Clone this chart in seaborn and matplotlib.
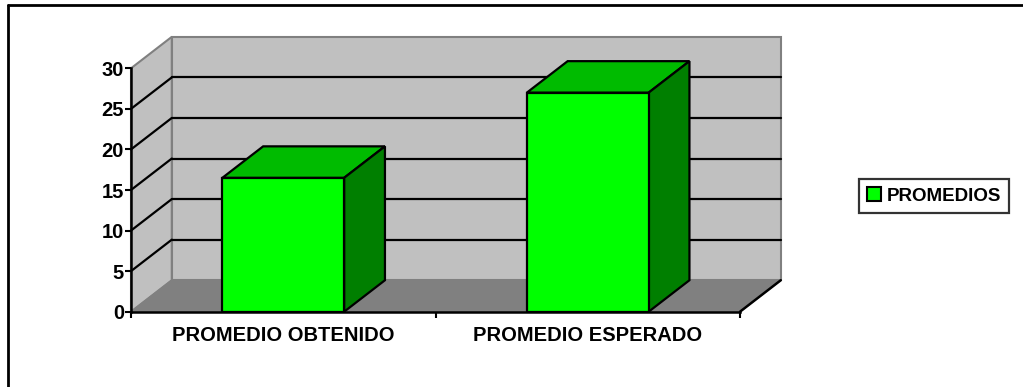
import matplotlib
matplotlib.use("Agg")
import matplotlib.pyplot as plt
from matplotlib.patches import Polygon, Rectangle, Patch
from matplotlib.lines import Line2D
import seaborn as sns

categories = ["PROMEDIO OBTENIDO", "PROMEDIO ESPERADO"]
values = [16.5, 27]
series_name = "PROMEDIOS"
y_ticks = [0, 5, 10, 15, 20, 25, 30]

FRONT = "#00FF00"
TOP = "#00BB00"
SIDE = "#007F00"
WALL = "#C0C0C0"
FLOOR = "#808080"

sns.set_style("white")
plt.rcParams["font.family"] = ["Liberation Sans", "DejaVu Sans"]
plt.rcParams["font.weight"] = "bold"
plt.rcParams["text.color"] = "black"

fig = plt.figure(figsize=(10.23, 3.87), dpi=100)
ax = fig.add_axes([131 / 1023, 75.3 / 387, 609 / 1023, 243.4 / 387])

ymax = 30
dx, dy = 0.134, 3.88
x0, x1 = -0.5, 1.5

# walls and floor
ax.add_patch(Polygon([(x0, 0), (x0 + dx, dy), (x0 + dx, ymax + dy), (x0, ymax)],
                     facecolor=WALL, edgecolor=FLOOR, lw=1.5, zorder=0, clip_on=False))
ax.add_patch(Rectangle((x0 + dx, dy), x1 - x0, ymax, facecolor=WALL, edgecolor=FLOOR,
                       lw=1.5, zorder=0, clip_on=False))
ax.add_patch(Polygon([(x0, 0), (x1, 0), (x1 + dx, dy), (x0 + dx, dy)],
                     facecolor=FLOOR, edgecolor=FLOOR, lw=1, zorder=0.5, clip_on=False))

# gridlines on side wall and back wall
for y in y_ticks[1:-1]:
    ax.add_line(Line2D([x0, x0 + dx], [y, y + dy], color="black", lw=1.6, zorder=1, clip_on=False))
    ax.add_line(Line2D([x0 + dx, x1 + dx], [y + dy, y + dy], color="black", lw=1.6, zorder=1,
                       clip_on=False))

sns.barplot(x=categories, y=values, color=FRONT, saturation=1, width=0.4,
            edgecolor="black", linewidth=1.6, ax=ax, zorder=3)

# 3D top and side faces
for p in ax.patches:
    if not isinstance(p, Rectangle) or p.get_facecolor()[:3] != (0.0, 1.0, 0.0):
        continue
    bx, bw, bh = p.get_x(), p.get_width(), p.get_height()
    ax.add_patch(Polygon([(bx, bh), (bx + bw, bh), (bx + bw + dx, bh + dy), (bx + dx, bh + dy)],
                         facecolor=TOP, edgecolor="black", lw=1.6, zorder=2.5, clip_on=False))
    ax.add_patch(Polygon([(bx + bw, 0), (bx + bw + dx, dy), (bx + bw + dx, bh + dy), (bx + bw, bh)],
                         facecolor=SIDE, edgecolor="black", lw=1.6, zorder=2.5, clip_on=False))

# right diagonal axis edge
ax.add_line(Line2D([x1, x1 + dx], [0, dy], color="black", lw=1.8, zorder=4, clip_on=False))

ax.set_xlim(x0, x1)
ax.set_ylim(0, ymax)
ax.set_yticks(y_ticks)
ax.set_xticks([0, 1])
ax.set_xticks([-0.5, 0.5, 1.5], minor=True)
ax.set_xlabel("")
ax.set_ylabel("")
ax.patch.set_visible(False)
for s in ["top", "right"]:
    ax.spines[s].set_visible(False)
for s in ["left", "bottom"]:
    ax.spines[s].set_color("black")
    ax.spines[s].set_linewidth(1.8)
    ax.spines[s].set_zorder(4)
ax.tick_params(axis="y", which="major", left=True, length=4, width=1.5, pad=1, labelsize=14.5,
               color="black", labelcolor="black")
ax.tick_params(axis="x", which="major", bottom=True, length=0, pad=10, labelsize=14.5,
               labelcolor="black")
ax.tick_params(axis="x", which="minor", bottom=True, length=4, width=1.5, color="black")
for lab in ax.get_xticklabels() + ax.get_yticklabels():
    lab.set_fontweight("bold")

leg = fig.legend(handles=[Patch(facecolor=FRONT, edgecolor="black", lw=1.5, label=series_name)],
                 loc="center", bbox_to_anchor=(934 / 1023, 1 - 196 / 387), frameon=True,
                 fancybox=False, handlelength=0.75, handleheight=0.75, handletextpad=0.3,
                 borderpad=0.45, borderaxespad=0, prop={"weight": "bold", "size": 13.5})
leg.get_frame().set_edgecolor("black")
leg.get_frame().set_linewidth(1.6)
for t in leg.get_texts():
    t.set_color("black")

# chart border (top and left only visible)
fig.add_artist(Line2D([8 / 1023, 1.0], [1 - 5 / 387, 1 - 5 / 387], color="black", lw=2,
                      transform=fig.transFigure))
fig.add_artist(Line2D([8 / 1023, 8 / 1023], [0.0, 1 - 5 / 387], color="black", lw=2,
                      transform=fig.transFigure))

fig.savefig("out.png", dpi=100)
